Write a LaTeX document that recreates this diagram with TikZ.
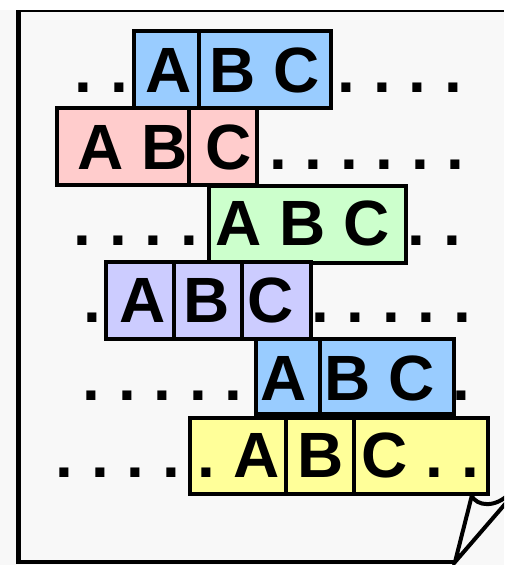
\documentclass[tikz,border=0pt]{standalone}
\usepackage{fontspec}
\setmainfont{Liberation Sans}
\usepackage{tikz}

\definecolor{pagegray}{HTML}{F8F8F8}
\definecolor{cellblue}{HTML}{99CCFF}
\definecolor{cellpink}{HTML}{FFCCCC}
\definecolor{cellgreen}{HTML}{CCFFCC}
\definecolor{celllilac}{HTML}{CCCCFF}
\definecolor{cellyellow}{HTML}{FFFF99}

\begin{document}
\begin{tikzpicture}[x=1pt,y=-1pt,
  cell/.style={draw=black,line width=4pt},
  textrow/.style={anchor=base west,inner sep=0pt,
    font=\fontsize{64}{70}\selectfont\bfseries\frenchspacing}]
\useasboundingbox (0,0) rectangle (504,565);
\clip (0,0) rectangle (504,565);
\fill[pagegray] (0,10) rectangle (504,565);
% sheet with the curled corner
\draw[line width=1.5pt] (18,11)--(504,11);
\draw[line width=4.5pt] (18.5,10)--(18.5,564);
\draw[line width=4pt] (16.5,562)--(455,562);
\draw[line width=4pt,line join=miter] (471.5,497)--(455,562)--(512,496);
\draw[line width=4pt] (471,495) .. controls (477,507) and (496,508) .. (510,493);
% cells, row by row
\draw[cell,fill=cellblue] (134,31) rectangle (199,108);
\draw[cell,fill=cellblue] (199,31) rectangle (331,108);
\draw[cell,fill=cellpink] (57,108) rectangle (189,184.5);
\draw[cell,fill=cellpink] (189,108) rectangle (257,184.5);
\draw[cell,fill=cellgreen] (209,186) rectangle (406,263);
\draw[cell,fill=celllilac] (106,262) rectangle (174,338.5);
\draw[cell,fill=celllilac] (174,262) rectangle (242,338.5);
\draw[cell,fill=celllilac] (242,262) rectangle (311,338.5);
\draw[cell,fill=cellblue] (256,339) rectangle (320,414);
\draw[cell,fill=cellblue] (320,339) rectangle (454,414);
\draw[cell,fill=cellyellow] (190,418) rectangle (286,494);
\draw[cell,fill=cellyellow] (286,418) rectangle (354,494);
\draw[cell,fill=cellyellow] (354,418) rectangle (488,494);
% the text lines
\node[textrow] (lineone) at (74.5,92.7) {. . A B C . . . .};
\node[textrow] (linetwo) at (77,169.5) {A B C . . . . . .};
\node[textrow] (linethree) at (73.5,245) {. . . . A B C . .};
\node[textrow] (linefour) at (83.5,322.7) {. A B C . . . . .};
\node[textrow] (linefive) at (82.5,400) {. . . . . A B C .};
\node[textrow] (linesix) at (55.5,477) {. . . . . A B C . .};
\end{tikzpicture}
\end{document}
